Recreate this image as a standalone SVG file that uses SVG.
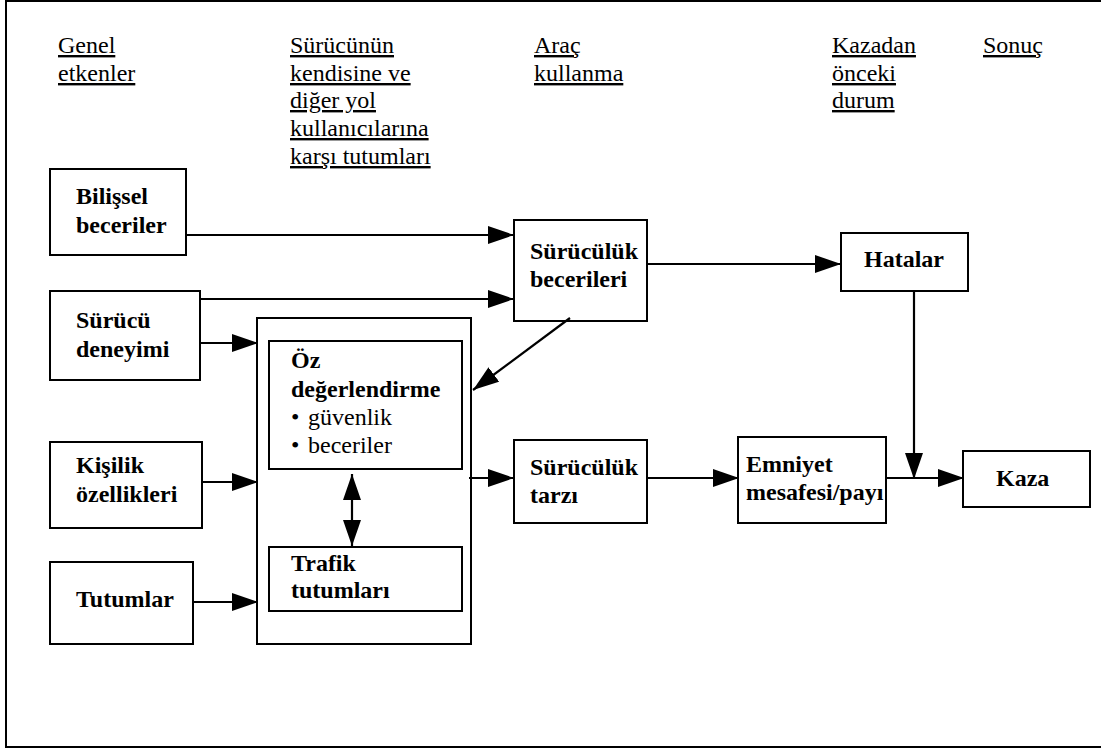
<svg xmlns="http://www.w3.org/2000/svg" width="1101" height="751" viewBox="0 0 1101 751">
<style>
text{font-family:'Liberation Serif','Tinos','Times New Roman','DejaVu Serif',serif;font-size:24px;fill:#000}
.hdr{text-decoration:underline}
.lbl{font-weight:bold}
.box{fill:#fff;stroke:#000;stroke-width:2}
.con{fill:none;stroke:#000;stroke-width:2.2}
.arr{marker-end:url(#ah)}
</style>
<defs>
<marker id="ah" markerUnits="userSpaceOnUse" markerWidth="26" markerHeight="18" refX="26" refY="9" orient="auto-start-reverse" viewBox="0 0 26 18">
<path d="M0,0 L26,9 L0,18 z" fill="#000"/>
</marker>
</defs>
<rect width="1101" height="751" fill="#fff"/>
<path d="M1101,1 H6 V747 H1101" fill="none" stroke="#000" stroke-width="2"/>
<g id="headers">
<text class="hdr" x="58" y="53">Genel</text>
<text class="hdr" x="58" y="81">etkenler</text>
<text class="hdr" x="290" y="53">Sürücünün</text>
<text class="hdr" x="290" y="81">kendisine ve</text>
<text class="hdr" x="290" y="108">diğer yol</text>
<text class="hdr" x="290" y="136">kullanıcılarına</text>
<text class="hdr" x="290" y="164">karşı tutumları</text>
<text class="hdr" x="534" y="53">Araç</text>
<text class="hdr" x="534" y="81">kullanma</text>
<text class="hdr" x="832" y="53">Kazadan</text>
<text class="hdr" x="832" y="81">önceki</text>
<text class="hdr" x="832" y="108">durum</text>
<text class="hdr" x="983" y="53">Sonuç</text>
</g>
<g id="bilissel">
<rect class="box" x="50" y="169" width="136" height="86"/>
<text class="lbl" x="76" y="204">Bilişsel</text>
<text class="lbl" x="76" y="233">beceriler</text>
</g>
<g id="deneyim">
<rect class="box" x="50" y="291" width="150" height="89"/>
<text class="lbl" x="76" y="328">Sürücü</text>
<text class="lbl" x="76" y="357">deneyimi</text>
</g>
<g id="kisilik">
<rect class="box" x="50" y="442" width="152" height="86"/>
<text class="lbl" x="76" y="473">Kişilik</text>
<text class="lbl" x="76" y="502">özellikleri</text>
</g>
<g id="tutumlar">
<rect class="box" x="50" y="562" width="143" height="82"/>
<text class="lbl" x="76" y="607">Tutumlar</text>
</g>
<g id="container">
<rect class="box" x="257" y="318" width="214" height="326"/>
</g>
<g id="oz">
<rect class="box" x="269" y="341" width="193" height="128"/>
<text class="lbl" x="291" y="368">Öz</text>
<text class="lbl" x="291" y="397">değerlendirme</text>
<text x="291" y="425">•<tspan x="308">güvenlik</tspan></text>
<text x="291" y="453">•<tspan x="308">beceriler</tspan></text>
</g>
<g id="trafik">
<rect class="box" x="269" y="547" width="193" height="64"/>
<text class="lbl" x="291" y="571">Trafik</text>
<text class="lbl" x="291" y="598">tutumları</text>
</g>
<g id="beceriler">
<rect class="box" x="514" y="220" width="133" height="101"/>
<text class="lbl" x="530" y="259">Sürücülük</text>
<text class="lbl" x="530" y="287">becerileri</text>
</g>
<g id="hatalar">
<rect class="box" x="841" y="233" width="127" height="58"/>
<text class="lbl" x="904" y="267" text-anchor="middle">Hatalar</text>
</g>
<g id="tarzi">
<rect class="box" x="514" y="440" width="133" height="83"/>
<text class="lbl" x="530" y="475">Sürücülük</text>
<text class="lbl" x="530" y="503">tarzı</text>
</g>
<g id="emniyet">
<rect class="box" x="738" y="437" width="148" height="86"/>
<text class="lbl" x="746" y="472">Emniyet</text>
<text class="lbl" x="746" y="500">mesafesi/payı</text>
</g>
<g id="kaza">
<rect class="box" x="963" y="451" width="127" height="56"/>
<text class="lbl" x="996" y="486">Kaza</text>
</g>
<g id="connectors">
<line class="con arr" x1="186" y1="235" x2="514" y2="235"/>
<line class="con arr" x1="200" y1="299" x2="514" y2="299"/>
<line class="con arr" x1="200" y1="343" x2="258" y2="343"/>
<line class="con arr" x1="202" y1="482" x2="258" y2="482"/>
<line class="con arr" x1="193" y1="602" x2="258" y2="602"/>
<line class="con arr" x1="570" y1="318" x2="473" y2="390"/>
<line class="con arr" x1="647" y1="264" x2="841" y2="264"/>
<line class="con arr" x1="469" y1="478" x2="514" y2="478"/>
<line class="con arr" x1="647" y1="478" x2="739" y2="478"/>
<line class="con arr" x1="886" y1="478" x2="964" y2="478"/>
<line class="con arr" x1="914" y1="291" x2="914" y2="479"/>
<line class="con arr" x1="352" y1="474" x2="352" y2="546" style="marker-start:url(#ah)"/>
</g>
</svg>
